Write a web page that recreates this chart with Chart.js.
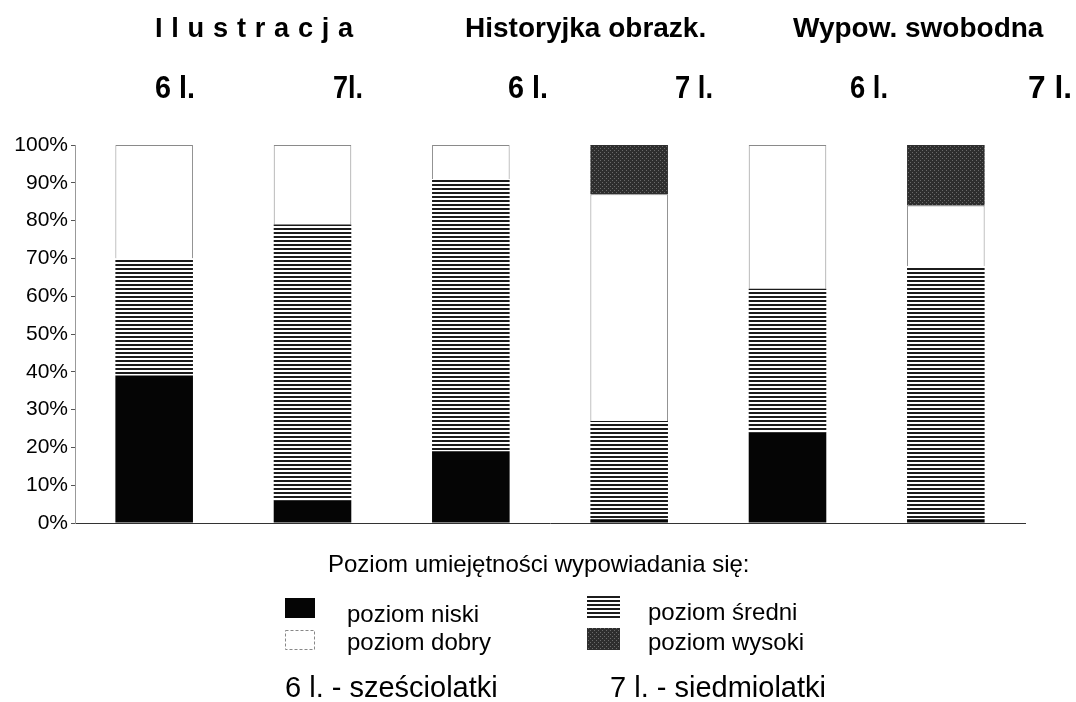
<!DOCTYPE html>
<html>
<head>
<meta charset="utf-8">
<script src="https://cdn.jsdelivr.net/npm/chart.js@4/dist/chart.umd.min.js"></script>
<style>
  html, body { margin: 0; padding: 0; background: #fff; }
  #wrap { width: 1076px; height: 702px; position: relative; }
</style>
</head>
<body>
<div id="wrap"><canvas id="chart" width="1076" height="702"></canvas></div>
<script>
// data
const groups = ['Ilustracja', 'Historyjka obrazk.', 'Wypow. swobodna'];
const ages = ['6 l.', '7l.', '6 l.', '7 l.', '6 l.', '7 l.'];
const niski = [39, 6, 19, 1, 24, 1];
const sredni = [31, 73, 72, 26, 38, 67];
const dobry = [30, 21, 9, 60, 38, 16];
const wysoki = [0, 0, 0, 13, 0, 16];
const yTicks = [0, 10, 20, 30, 40, 50, 60, 70, 80, 90, 100];

const legendTitle = 'Poziom umiejętności wypowiadania się:';
const footnotes = ['6 l. - sześciolatki', '7 l. - siedmiolatki'];

// text placement (left x, baseline y)
const groupPos = [[155, 37, 207], [465, 37, 253], [793, 37, 275]];
const agePos = [[155, 40], [333, 30], [508, 40], [675, 38], [850, 38], [1028, 44]];

const FONT = "'Liberation Sans', Arial, sans-serif";

function stripes() {
  const c = document.createElement('canvas');
  c.width = 4; c.height = 4;
  const g = c.getContext('2d');
  g.fillStyle = '#fff';
  g.fillRect(0, 0, 4, 4);
  g.fillStyle = '#1c1c1c';
  g.fillRect(0, 0, 4, 2);
  return g.createPattern(c, 'repeat');
}

function stipple() {
  const c = document.createElement('canvas');
  c.width = 4; c.height = 4;
  const g = c.getContext('2d');
  g.fillStyle = '#2e2e2e';
  g.fillRect(0, 0, 4, 4);
  g.fillStyle = '#6a6a6a';
  g.fillRect(0, 0, 1, 1);
  g.fillRect(2, 2, 1, 1);
  return g.createPattern(c, 'repeat');
}

const hatch = stripes();
const dots = stipple();

const labelsPlugin = {
  id: 'labels',
  afterDraw(chart) {
    const ctx = chart.ctx;
    ctx.save();
    ctx.fillStyle = '#000';
    ctx.textAlign = 'left';
    ctx.textBaseline = 'alphabetic';

    // group titles
    ctx.font = 'bold 28px ' + FONT;
    groups.forEach((t, i) => {
      const [x, y, w] = groupPos[i];
      if (i === 0) {
        ctx.letterSpacing = '9px';
        ctx.fillText(t, x, y, w);
        ctx.letterSpacing = '0px';
      } else {
        ctx.fillText(t, x, y, w);
      }
    });

    // age labels
    ctx.font = 'bold 32px ' + FONT;
    chart.data.labels.forEach((t, i) => {
      const [x, w] = agePos[i];
      ctx.fillText(t, x, 98, w);
    });

    // legend
    ctx.font = '24px ' + FONT;
    ctx.fillText(legendTitle, 328, 572);

    const ds = chart.data.datasets;
    const boxes = [
      [285, 598, 30, 20, 347, 622],
      [587, 596, 33, 22, 648, 620],
      [285, 630, 30, 20, 347, 650],
      [587, 628, 33, 22, 648, 650]
    ];
    ds.forEach((d, i) => {
      const [bx, by, bw, bh, tx, ty] = boxes[i];
      ctx.fillStyle = d.backgroundColor;
      ctx.fillRect(bx, by, bw, bh);
      if (d.borderWidth) {
        ctx.strokeStyle = '#888';
        ctx.lineWidth = 1;
        ctx.setLineDash([3, 2]);
        ctx.strokeRect(bx + 0.5, by + 0.5, bw - 1, bh - 1);
        ctx.setLineDash([]);
      }
      ctx.fillStyle = '#000';
      ctx.fillText(d.label, tx, ty);
    });

    ctx.font = '29px ' + FONT;
    ctx.fillText(footnotes[0], 285, 697);
    ctx.fillText(footnotes[1], 610, 697);
    ctx.restore();
  }
};

new Chart(document.getElementById('chart'), {
  type: 'bar',
  data: {
    labels: ages,
    datasets: [
      { label: 'poziom niski', data: niski, backgroundColor: '#050505', borderWidth: 0 },
      { label: 'poziom średni', data: sredni, backgroundColor: hatch, borderWidth: 0 },
      { label: 'poziom dobry', data: dobry, backgroundColor: '#ffffff', borderColor: '#8a8a8a', borderWidth: 1 },
      { label: 'poziom wysoki', data: wysoki, backgroundColor: dots, borderWidth: 0 }
    ]
  },
  options: {
    responsive: false,
    animation: false,
    layout: { padding: { top: 145, bottom: 179, left: 13, right: 51 } },
    datasets: { bar: { categoryPercentage: 1, barPercentage: 0.49 } },
    plugins: {
      legend: { display: false },
      tooltip: { enabled: false }
    },
    scales: {
      x: {
        stacked: true,
        ticks: { display: false },
        grid: { display: false, drawTicks: false },
        border: { display: true, color: '#333', width: 1, dash: [9, 2] }
      },
      y: {
        stacked: true,
        min: 0,
        max: 100,
        afterBuildTicks: (s) => { s.ticks = yTicks.map(v => ({ value: v })); },
        afterFit: (s) => { s.width = 62; },
        ticks: {
          color: '#000',
          padding: 3,
          font: { family: FONT, size: 21 },
          callback: (v) => v + '%'
        },
        grid: { drawOnChartArea: false, drawTicks: true, tickLength: 4, color: '#555' },
        border: { display: true, color: '#999', width: 1, dash: [4, 3] }
      }
    }
  },
  plugins: [labelsPlugin]
});
</script>
</body>
</html>
